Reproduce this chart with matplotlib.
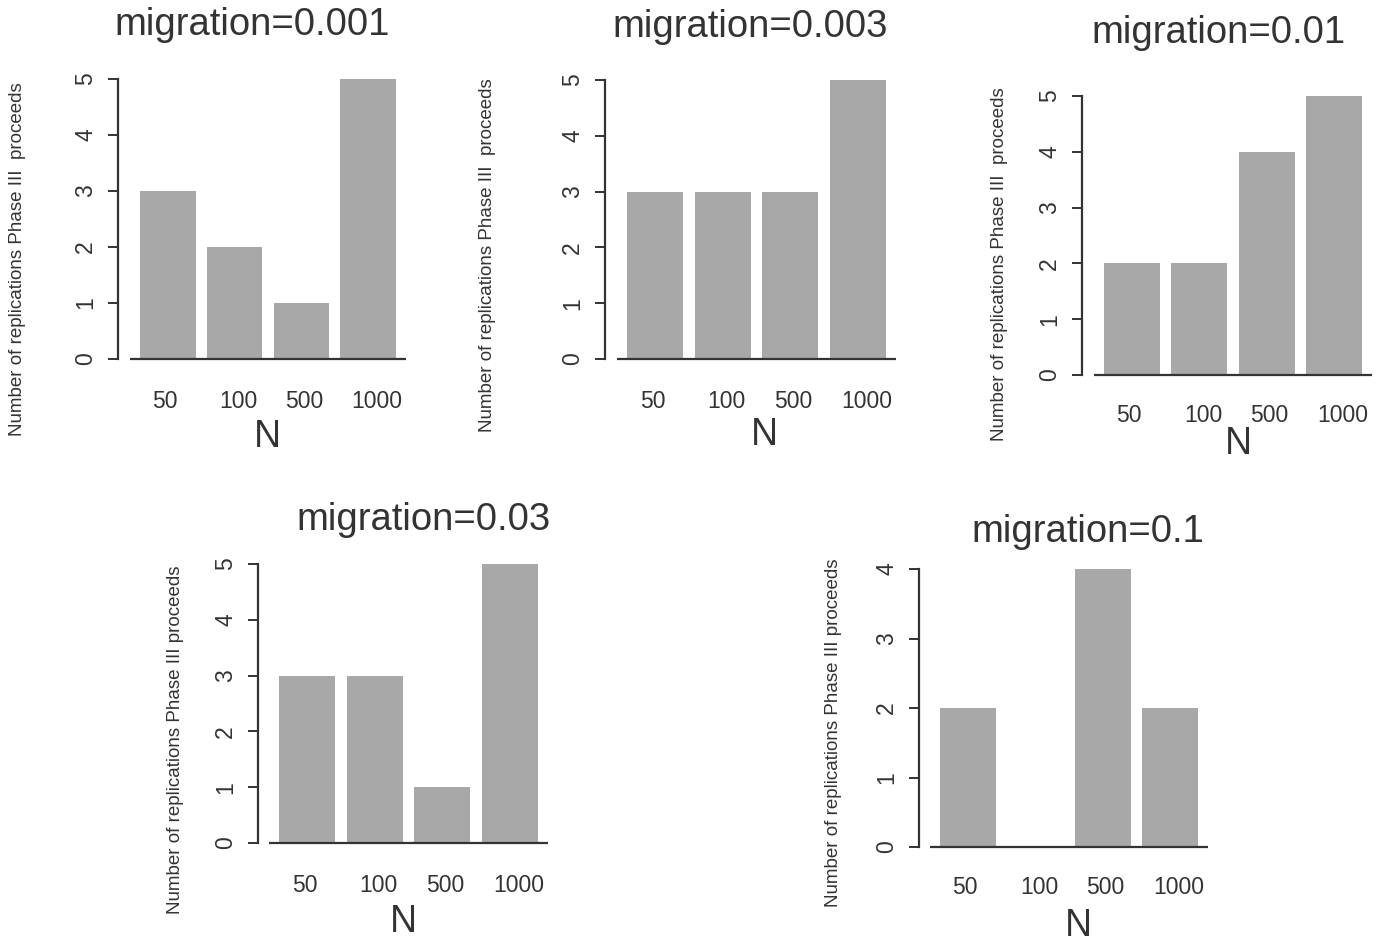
import numpy as np
import matplotlib
matplotlib.use("Agg")
import matplotlib.pyplot as plt

plt.rcParams['font.family'] = ['Liberation Sans', 'DejaVu Sans']

# data
N_labels = ["50", "100", "500", "1000"]
titles = ["migration=0.001", "migration=0.003", "migration=0.01",
          "migration=0.03", "migration=0.1"]
counts_0001 = [3, 2, 1, 5]
counts_0003 = [3, 3, 3, 5]
counts_001 = [2, 2, 4, 5]
counts_003 = [3, 3, 1, 5]
counts_01 = [2, 0, 4, 2]
yticks_5 = [0, 1, 2, 3, 4, 5]
yticks_4 = [0, 1, 2, 3, 4]

W, H = 1384, 943
ink = '#333333'
bar_col = '#a8a8a8'
lab_shift = [-3, 4, 3, 9]  # pixel nudges of the N labels off the bar centres

fig = plt.figure(figsize=(W / 100, H / 100), dpi=100)
fig.patch.set_facecolor('white')

# layout in pixels: y-axis x, baseline left/right, y of 0 and of top tick,
# gap to N labels, title centre, ylabel centre, N centre, ylabel text
panels = [
    (counts_0001, yticks_5, 118, 130, 406, 359, 79, 43, (252, 25), (18, 259), (267, 437),
     "Number of replications Phase III  proceeds"),
    (counts_0003, yticks_5, 605, 617, 896, 359, 80, 43, (750, 27), (487, 255), (764, 435),
     "Number of replications Phase III  proceeds"),
    (counts_001, yticks_5, 1082, 1094, 1372, 375, 96, 40, (1219, 33), (1000, 264), (1238, 444),
     "Number of replications Phase III  proceeds"),
    (counts_003, yticks_4 + [5], 258, 269, 548, 843, 564, 42, (424, 520), (176, 740), (403, 922),
     "Number of replications Phase III proceeds"),
    (counts_01, yticks_4, 919, 930, 1208, 847, 569, 41, (1088, 532), (833, 733), (1078, 926),
     "Number of replications Phase III proceeds"),
]

for i, (vals, yt, axx, bl, br, y0, y1, gap, tpos, ypos, npos, ylab) in enumerate(panels):
    ax = fig.add_axes([axx / W, 1 - y0 / H, (br - axx) / W, (y0 - y1) / H])
    ax.patch.set_alpha(0)
    scale = (br - bl) / 4.968
    xl = 0.016 - (bl - axx) / scale
    ax.set_xlim(xl, 4.984)
    ymax = yt[-1]
    ax.set_ylim(0, ymax)

    lefts = 0.2 + 1.2 * np.arange(len(vals))
    ax.bar(lefts, vals, width=1.0, align='edge', color=bar_col, edgecolor='none',
           clip_on=False)
    ax.hlines(0, 0.016, 4.984, color=ink, lw=1.6, clip_on=False, zorder=3)

    for s in ['top', 'right', 'bottom']:
        ax.spines[s].set_visible(False)
    ax.spines['left'].set_color(ink)
    ax.spines['left'].set_linewidth(1.6)
    ax.spines['left'].set_bounds(0, ymax)
    ax.set_yticks(yt)
    ax.set_yticklabels([str(v) for v in yt], rotation=90, va='center')
    ax.tick_params(axis='y', length=7, width=1.4, color=ink, labelcolor=ink,
                   labelsize=16.5, pad=8)
    ax.set_xticks([])

    for c, lbl, sh in zip(lefts + 0.5, N_labels, lab_shift):
        ax.annotate(lbl, (c, 0), xytext=(sh * 0.72, -gap * 0.72),
                    textcoords='offset points', ha='center', va='center',
                    fontsize=16.5, color=ink)

    fig.text(tpos[0] / W, 1 - tpos[1] / H, titles[i], ha='center', va='center',
             fontsize=27.5, color=ink)
    fig.text(ypos[0] / W, 1 - ypos[1] / H, ylab, ha='center', va='center',
             rotation=90, fontsize=13.5, color=ink)
    fig.text(npos[0] / W, 1 - npos[1] / H, "N", ha='center', va='center',
             fontsize=27, color=ink)

fig.savefig('out.png', dpi=100, facecolor='white')
